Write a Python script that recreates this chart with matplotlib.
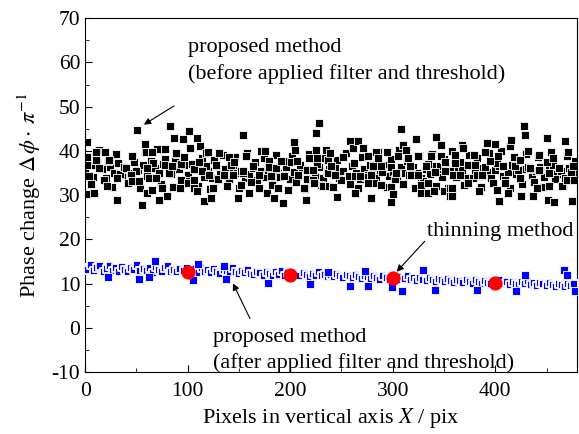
import numpy as np
import matplotlib
matplotlib.use("Agg")
import matplotlib.pyplot as plt

# Black squares: proposed method before filter/threshold (scattered outer points)
black_x = [2, 2, 4, 9, 11, 11, 14, 19, 21, 23, 31, 31, 40, 45, 46, 51, 53, 55, 58, 59,
           60, 60, 65, 65, 69, 72, 75, 78, 78, 80, 83, 85, 87, 89, 93, 94, 95, 96, 100, 101,
           106, 106, 109, 109, 111, 112, 114, 116, 118,
           120, 121, 123, 125, 128, 131, 135, 140, 144, 145, 149, 152, 154, 154, 157, 160, 164, 170, 172, 175,
           177, 179, 179, 181, 184, 186, 188, 191, 193, 194, 201, 204, 205, 207, 208, 213, 215, 216, 218, 222,
           223, 225, 225, 226, 228, 232, 235, 237, 237, 238,
           239, 240, 242, 244, 246, 252, 257, 258, 261, 263, 263, 266, 268, 271, 276, 276, 279, 279, 281, 284,
           286, 289, 289, 294, 298, 298, 298, 300, 303, 305, 308, 310, 313, 315, 317, 318, 323, 325, 325, 328,
           328, 332, 334, 334, 337, 340, 341, 342, 347, 347, 350, 351, 351, 356, 356,
           358, 358, 359, 361, 361, 366, 368, 369, 373, 373, 379, 380, 382, 384, 387, 390, 392, 395, 400, 402,
           403, 404, 408, 410, 412, 414, 415, 419, 424, 424, 425, 428, 429, 432, 434, 437, 441, 443, 443, 450,
           451, 452, 452, 456, 457, 462, 465, 468, 470, 471, 475, 476, 477]
black_y = [42.0, 30.3, 34.3, 30.5, 39.8, 38.0, 36.1, 39.8, 32.0, 38.0, 28.9, 33.9, 36.1, 34.5, 33.2, 44.8, 33.2, 27.7, 41.6, 39.8,
           36.1, 30.5, 39.8, 31.1, 33.9, 28.9, 31.6, 40.5, 36.8, 29.8, 45.7, 36.6, 43.0, 39.5, 31.6, 33.4, 42.7, 38.6, 32.7, 44.5,
           33.4, 31.6, 43.0, 31.0, 37.5, 41.1, 35.5, 28.6, 39.5,
           39.8, 34.5, 29.3, 31.6, 36.8, 39.5, 34.5, 38.6, 34.5, 37.5, 29.3, 32.3, 43.6, 35.5, 38.9, 30.5, 36.6, 34.5, 40.0, 40.0,
           30.5, 37.7, 36.4, 34.3, 29.3, 36.1, 31.6, 37.7, 28.2, 34.3, 37.5, 42.0, 40.2, 37.7, 34.5, 31.6, 28.9, 35.7, 38.4, 35.7,
           32.7, 44.1, 40.2, 38.4, 46.4, 32.0, 40.2, 38.0, 35.0, 32.0,
           39.5, 36.6, 31.8, 34.5, 29.5, 38.6, 34.3, 42.3, 40.7, 30.5, 34.3, 42.3, 34.3, 40.7, 38.9, 32.7, 34.5, 29.3, 36.6, 39.8,
           38.4, 32.3, 36.6, 39.8, 28.4, 31.8, 36.4, 30.2, 35.0, 38.9, 45.0, 41.4, 40.2, 38.4, 36.6, 34.5, 42.7, 38.9, 34.5, 32.3,
           30.5, 36.6, 30.5, 32.7, 38.9, 30.9, 35.2, 43.2, 41.4, 38.9, 30.9, 37.5, 35.5, 31.6, 29.8,
           29.8, 31.6, 34.5, 39.0, 37.3, 34.5, 41.4, 40.7, 36.8, 32.7, 39.0, 36.8, 34.5, 30.9, 34.5, 39.8, 41.8, 37.7, 41.6, 31.1,
           38.9, 28.6, 36.6, 32.7, 30.5, 41.1, 42.5, 36.6, 38.0, 33.9, 29.8, 45.7, 43.6, 40.0, 36.1, 29.8, 31.6, 39.0, 35.7, 43.0,
           28.9, 35.0, 32.0, 38.4, 28.4, 36.1, 32.0, 42.3, 33.4, 39.8, 28.6, 36.6, 33.4]

# Black squares: dense middle band, one value every 4 pixels
black_mid_x = np.arange(0, 480, 4)
black_mid_y = [35.2, 36.8, 34.1, 37.5, 35.9, 33.8, 36.4, 35.0, 37.2, 34.6,
               36.0, 34.9, 37.4, 35.6, 36.9, 34.3, 37.8, 36.2, 35.1, 37.0,
               36.5, 34.8, 37.6, 35.9, 36.8, 34.5, 37.1, 35.7, 36.3, 34.2,
               35.4, 33.9, 36.6, 34.8, 35.8, 33.6, 36.2, 34.9, 35.5, 33.8,
               34.7, 36.1, 33.5, 35.4, 34.2, 36.5, 33.9, 35.0, 34.6, 36.3,
               33.7, 35.2, 34.4, 36.0, 33.6, 35.6, 34.1, 36.4, 33.9, 35.3,
               34.8, 36.2, 33.8, 35.5, 34.3, 36.6, 35.0, 33.7, 35.9, 34.5,
               36.1, 34.0, 35.7, 36.8, 34.4, 35.2, 33.9, 36.3, 35.0, 34.6,
               36.4, 35.1, 33.8, 35.9, 34.7, 36.5, 35.3, 34.0, 36.0, 35.4,
               34.5, 36.2, 35.6, 33.9, 36.7, 35.0, 34.4, 36.1, 35.3, 33.8,
               35.7, 36.6, 34.3, 35.2, 36.9, 34.8, 33.7, 35.8, 36.4, 34.6,
               35.5, 36.3, 34.0, 35.9, 36.8, 34.7, 35.4, 33.9, 36.2, 35.1]

# Black squares: wider band, offset by 2 pixels
black_mid2_x = np.arange(2, 480, 4)
black_mid2_y = [38.6, 32.4, 36.9, 40.1, 33.5, 37.8, 31.9, 39.2, 34.7, 36.3,
                32.8, 38.9, 35.4, 31.6, 39.7, 33.9, 37.2, 40.4, 32.5, 38.1,
                34.9, 31.8, 39.4, 37.0, 33.2, 40.6, 35.8, 32.1, 38.5, 36.6,
                31.4, 37.9, 33.6, 39.1, 32.0, 36.8, 38.7, 31.7, 35.1, 39.6,
                33.0, 37.4, 31.5, 38.3, 35.6, 32.3, 39.0, 34.1, 37.6, 31.2,
                38.8, 32.9, 36.7, 31.3, 39.3, 33.4, 37.1, 32.2, 38.4, 35.9,
                31.9, 38.0, 33.3, 39.5, 32.6, 37.3, 31.6, 38.6, 34.2, 36.9,
                32.7, 39.8, 35.3, 31.8, 38.2, 33.6, 40.2, 32.4, 37.7, 35.0,
                31.5, 38.9, 33.1, 37.0, 39.4, 32.0, 36.5, 38.1, 31.7, 39.9,
                34.0, 37.5, 32.3, 39.1, 33.8, 38.3, 31.9, 36.4, 39.6, 32.8,
                37.2, 40.0, 33.5, 31.6, 38.7, 35.6, 32.5, 39.3, 36.0, 33.0,
                38.6, 31.8, 37.4, 39.7, 33.7, 36.2, 32.1, 38.9, 35.2, 37.8]

# Blue squares: proposed method after filter/threshold, one value every 3 pixels
blue_x = np.arange(0, 480, 3)
blue_y = [13.6, 13.0, 14.1, 12.8, 13.5, 13.9, 12.6, 13.3, 14.0, 12.9,
          13.4, 12.7, 13.8, 13.1, 12.5, 13.6, 13.0, 14.2, 12.8, 13.3,
          12.9, 13.5, 12.4, 13.7, 13.0, 12.6, 13.4, 13.9, 12.7, 13.1,
          12.5, 13.3, 12.8, 13.6, 12.4, 12.9, 13.2, 12.3, 13.5, 12.7,
          13.0, 12.4, 13.3, 12.6, 12.2, 13.1, 12.8, 12.3, 13.4, 12.5,
          12.1, 12.8, 12.4, 13.0, 12.2, 11.9, 12.7, 12.3, 11.8, 12.6,
          12.2, 11.7, 12.5, 12.0, 12.8, 11.8, 12.3, 11.6, 12.4, 12.0,
          11.7, 12.3, 11.9, 11.5, 12.2, 11.8, 12.5, 11.6, 12.0, 11.4,
          11.9, 11.5, 12.2, 11.7, 11.3, 12.0, 11.6, 11.2, 11.9, 11.5,
          11.1, 11.8, 11.4, 11.0, 11.7, 11.3, 10.9, 11.6, 11.2, 10.8,
          11.5, 11.1, 10.7, 11.4, 11.0, 11.6, 10.8, 11.2, 10.6, 11.3,
          10.9, 10.5, 11.2, 10.8, 10.4, 11.1, 10.7, 10.3, 11.0, 10.6,
          10.2, 10.9, 10.5, 10.1, 10.8, 10.4, 10.0, 10.7, 10.3, 9.9,
          10.6, 10.2, 9.8, 10.5, 10.1, 10.7, 9.9, 10.3, 9.7, 10.4,
          10.0, 9.6, 10.3, 9.9, 10.5, 9.7, 10.1, 9.5, 10.2, 9.8,
          9.4, 10.1, 9.7, 9.3, 10.0, 9.6, 9.2, 9.9, 9.5, 9.8]

# Blue outliers
blue_out_x = [22, 53, 62, 68, 105, 110, 135, 137, 178, 219, 237, 258, 273, 276, 299, 309,
              330, 341, 382, 420, 429, 467, 470, 478]
blue_out_y = [11.4, 11.1, 11.4, 15.2, 10.7, 14.3, 14.0, 11.1, 10.2, 10.0, 12.7, 9.5, 12.9, 9.5, 9.3, 8.4,
              13.0, 8.6, 8.6, 8.2, 12.0, 13.0, 12.0, 8.2]

# Red circles: thinning method
thin_x = [100, 200, 300, 400]
thin_y = [12.7, 12.0, 11.2, 10.2]


def main() -> None:
    plt.rcParams["font.family"] = ["Liberation Serif", "DejaVu Serif"]
    plt.rcParams["mathtext.fontset"] = "stix"
    plt.rcParams["axes.unicode_minus"] = False

    fig = plt.figure(figsize=(5.79, 4.34), dpi=100)
    ax = fig.add_axes([0.147, 0.143, 0.850, 0.815])

    ax.scatter(np.concatenate([black_mid_x, black_mid2_x, black_x]),
               np.concatenate([black_mid_y, black_mid2_y, black_y]),
               marker="s", s=36, c="black", edgecolors="white", linewidths=0.6, zorder=2)
    ax.scatter(blue_x, blue_y, marker="s", s=32, c="#0000ff",
               edgecolors="white", linewidths=1.3, zorder=3)
    ax.scatter(blue_out_x, blue_out_y, marker="s", s=32, c="#0000ff",
               edgecolors="white", linewidths=0.6, zorder=3)
    ax.scatter(thin_x, thin_y, marker="o", s=85, c="#ff0000", edgecolors="#ff0000", zorder=4)

    ax.set_xlim(0, 480)
    ax.set_ylim(-10, 70)
    ax.set_xticks([0, 100, 200, 300, 400])
    ax.set_xticks(range(50, 480, 100), minor=True)
    ax.set_yticks(range(-10, 71, 10))
    ax.set_yticks(range(-5, 70, 10), minor=True)
    ax.tick_params(which="both", direction="in", labelsize=15.5, top=False, right=False)
    ax.tick_params(which="major", length=5)
    ax.tick_params(which="minor", length=3)
    ax.tick_params(axis="x", pad=7)

    ax.set_xlabel("Pixels in vertical axis $\\mathit{X}$ / pix", fontsize=16, labelpad=4)
    ax.set_ylabel("Phase change $\\Delta\\,\\phi\\cdot\\,\\pi^{-1}$", fontsize=16, labelpad=6)

    arrow = dict(arrowstyle="-|>", color="black", lw=0.8, mutation_scale=10)
    ax.annotate("", xy=(55, 45.6), xytext=(89, 50.5), arrowprops=arrow)
    ax.text(100, 63.4, "proposed method", fontsize=16, va="center")
    ax.text(100, 57.3, "(before applied filter and threshold)", fontsize=16, va="center")

    ax.annotate("", xy=(302, 12.2), xytext=(333, 20), arrowprops=arrow)
    ax.text(405, 21.8, "thinning method", fontsize=16, ha="center", va="center")

    ax.annotate("", xy=(143, 10.6), xytext=(162, 1.5), arrowprops=arrow)
    ax.text(125, -2.2, "proposed method", fontsize=16, va="center")
    ax.text(125, -7.9, "(after applied filter and threshold)", fontsize=16, va="center")

    fig.savefig("out.png", dpi=100)
    plt.close(fig)


if __name__ == "__main__":
    main()
